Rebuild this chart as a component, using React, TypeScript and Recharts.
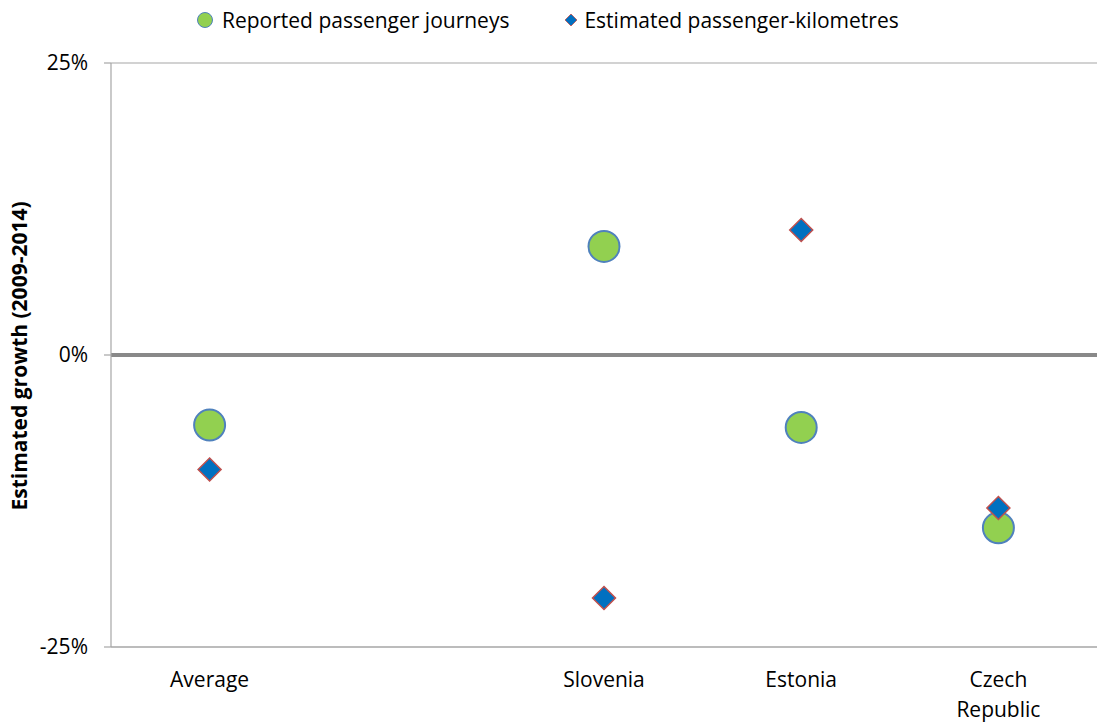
import {
  ComposedChart,
  Scatter,
  XAxis,
  YAxis,
  CartesianGrid,
  ReferenceLine,
  Legend,
} from 'recharts'

const FONT = '"Open Sans", sans-serif'

// Growth 2009-2014 in percent; the blank slot keeps the gap after "Average"
const countries = ['Average', '', 'Slovenia', 'Estonia', 'Czech Republic']
const journeys = [-6.0, null, 9.3, -6.2, -14.8]
const passengerKm = [-9.8, null, -20.8, 10.7, -13.1]
const yTicks = [-25, 0, 25]

const data = countries.map((name, i) => ({
  name,
  journeys: journeys[i],
  passengerKm: passengerKm[i],
}))

const GREEN = '#92D050'
const GREEN_EDGE = '#4F81BD'
const BLUE = '#0070C0'
const BLUE_EDGE = '#C0504D'

function CircleDot(props: any) {
  const { cx, cy, payload } = props
  if (payload?.journeys == null || cx == null || cy == null) return <g />
  return <circle cx={cx} cy={cy} r={15.5} fill={GREEN} stroke={GREEN_EDGE} strokeWidth={2} />
}

function DiamondDot(props: any) {
  const { cx, cy, payload } = props
  if (payload?.passengerKm == null || cx == null || cy == null) return <g />
  const h = 11.5
  return (
    <polygon
      points={`${cx},${cy - h} ${cx + h},${cy} ${cx},${cy + h} ${cx - h},${cy}`}
      fill={BLUE}
      stroke={BLUE_EDGE}
      strokeWidth={1.5}
    />
  )
}

function CategoryTick(props: any) {
  const { x, y, payload } = props
  const words = String(payload.value).split(' ')
  return (
    <text x={x} y={y} textAnchor="middle" fill="#000" fontSize={21} fontFamily={FONT}>
      {words.map((w, i) => (
        <tspan key={i} x={x} dy={i === 0 ? 32 : 30}>
          {w}
        </tspan>
      ))}
    </text>
  )
}

function TopLegend() {
  return (
    <div
      style={{
        display: 'flex',
        alignItems: 'center',
        fontFamily: FONT,
        fontSize: 21,
        color: '#000',
        position: 'absolute',
        left: 196,
        top: 6,
        whiteSpace: 'nowrap',
      }}
    >
      <svg width={18} height={18} style={{ marginRight: 8 }}>
        <circle cx={9} cy={9} r={7.5} fill={GREEN} stroke={GREEN_EDGE} strokeWidth={1} />
      </svg>
      <span>Reported passenger journeys</span>
      <svg width={16} height={16} style={{ marginLeft: 54, marginRight: 5 }}>
        <polygon points="8,2 14,8 8,14 2,8" fill={BLUE} stroke={BLUE_EDGE} strokeWidth={0.8} />
      </svg>
      <span>Estimated passenger-kilometres</span>
    </div>
  )
}

export default function App() {
  return (
    <div style={{ position: 'absolute', left: 0, top: 0, background: '#fff' }}>
      <ComposedChart
        width={1097}
        height={727}
        data={data}
        margin={{ top: 63, right: 0, bottom: 0, left: 0 }}
      >
        <CartesianGrid vertical={false} stroke="#a6a6a6" strokeWidth={1.2} />
        <XAxis
          dataKey="name"
          type="category"
          scale="band"
          height={80}
          axisLine={{ stroke: '#a6a6a6', strokeWidth: 1.2 }}
          tickLine={false}
          tick={<CategoryTick />}
          interval={0}
        />
        <YAxis
          type="number"
          domain={[-25, 25]}
          ticks={yTicks}
          width={111}
          tickFormatter={(v) => `${v}%`}
          axisLine={{ stroke: '#a6a6a6', strokeWidth: 1.2 }}
          tickLine={{ stroke: '#a6a6a6', strokeWidth: 1.2 }}
          tickSize={7}
          tickMargin={16}
          tick={{ fontSize: 21, fill: '#000', fontFamily: FONT }}
          label={{
            content: () => (
              <text
                x={27}
                y={356}
                transform="rotate(-90 27 356)"
                textAnchor="middle"
                fontSize={21}
                fontWeight="bold"
                fontFamily={FONT}
                fill="#000"
              >
                Estimated growth (2009-2014)
              </text>
            ),
          }}
        />
        <ReferenceLine y={0} stroke="#898989" strokeWidth={4} />
        <Legend verticalAlign="top" content={<TopLegend />} wrapperStyle={{ top: 0, left: 0 }} />
        <Scatter
          name="Reported passenger journeys"
          dataKey="journeys"
          shape={<CircleDot />}
          isAnimationActive={false}
        />
        <Scatter
          name="Estimated passenger-kilometres"
          dataKey="passengerKm"
          shape={<DiamondDot />}
          isAnimationActive={false}
        />
      </ComposedChart>
    </div>
  )
}
